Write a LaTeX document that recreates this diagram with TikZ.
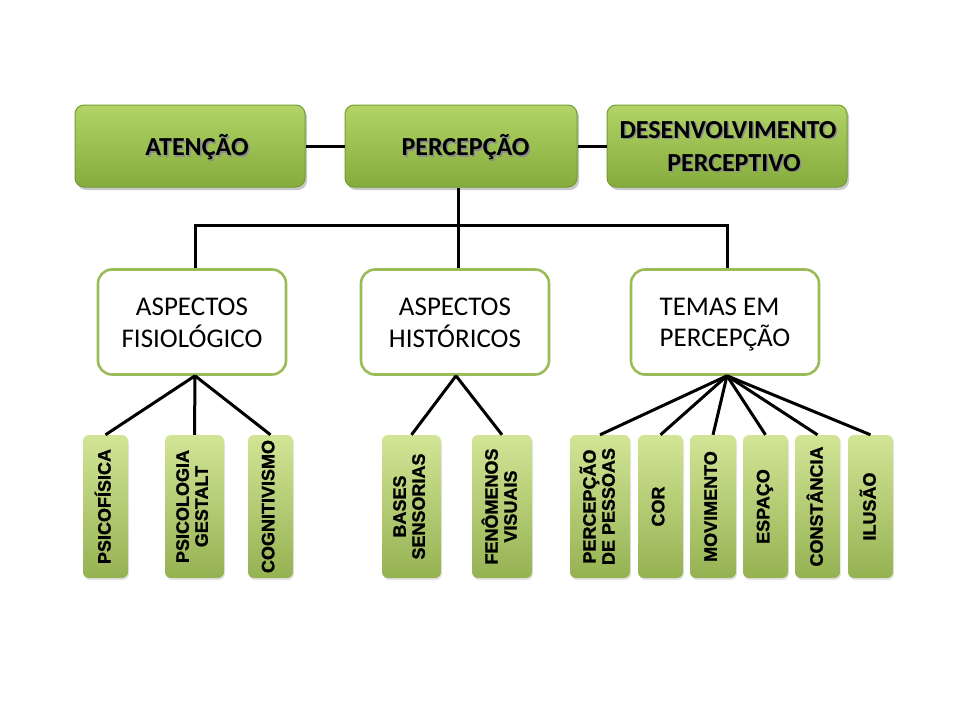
\documentclass[tikz,border=0pt]{standalone}
\usepackage{fontspec}
\setmainfont{Carlito}
\newfontfamily\lowfont{Liberation Sans}[BoldFeatures={FakeBold=1.2}]
\usetikzlibrary{shadows,calc}
\definecolor{topA}{HTML}{B3D366}
\definecolor{topB}{HTML}{84AC3C}
\definecolor{topBorder}{HTML}{749C34}
\definecolor{midBorder}{HTML}{9BBB59}
\definecolor{lowA}{HTML}{D2E596}
\definecolor{lowB}{HTML}{95B252}
\newcommand\shtxt[1]{\rlap{\kern1.5pt\raisebox{-1.5pt}{\textcolor{black!45}{#1}}}#1}
\newcommand\lowered[2]{\raisebox{-#1}[\height][\depth]{#2}}
\tikzset{
  topbox/.style={draw=topBorder, line width=1pt, rounded corners=9pt,
    top color=topA, bottom color=topB, minimum height=82pt,
    drop shadow={shadow xshift=2pt, shadow yshift=-3pt, opacity=0.35, fill=black!60},
    font=\bfseries\fontsize{26}{33}\selectfont, inner sep=0pt},
  midbox/.style={draw=midBorder, line width=2.6pt, rounded corners=14pt, fill=white,
    minimum width=188pt, minimum height=105pt,
    font=\fontsize{27}{31}\selectfont, inner sep=0pt},
  lowbox/.style={rounded corners=6pt, top color=lowA, bottom color=lowB,
    minimum height=143pt, inner sep=0pt,
    drop shadow={shadow xshift=1pt, shadow yshift=-2pt, opacity=0.2, fill=black!50},
    font=\lowfont\bfseries\fontsize{18}{19}\selectfont},
  conn/.style={line width=3pt, black}
}
\begin{document}
\begin{tikzpicture}[x=1pt,y=-1pt]
\useasboundingbox (0,0) rectangle (960,720);
\fill[white] (0,0) rectangle (960,720);
% top row
\node[topbox, minimum width=230pt] (aten) at (190,146) {\kern14pt\lowered{4pt}{\shtxt{\begin{tabular}{@{}c@{}}ATENÇÃO\end{tabular}}}};
\node[topbox, minimum width=232pt] (perc) at (461,146) {\kern9pt\lowered{4pt}{\shtxt{\begin{tabular}{@{}c@{}}PERCEPÇÃO\end{tabular}}}};
\node[topbox, minimum width=240pt] (desen) at (727,146) {\kern2pt\lowered{3pt}{\shtxt{\begin{tabular}{@{}c@{}}DESENVOLVIMENTO\\\kern12pt PERCEPTIVO\end{tabular}}}};
\draw[conn] (aten.east) -- (perc.west);
\draw[conn] (perc.east) -- (desen.west);
% middle row
\node[midbox] (fis) at (192,322) {\lowered{3pt}{\begin{tabular}{@{}c@{}}ASPECTOS\\FISIOLÓGICO\end{tabular}}};
\node[midbox] (hist) at (455,322) {\lowered{3pt}{\begin{tabular}{@{}c@{}}ASPECTOS\\HISTÓRICOS\end{tabular}}};
\node[midbox] (temas) at (725,322) {\lowered{3pt}{\begin{tabular}{@{}l@{}}TEMAS EM\\PERCEPÇÃO\end{tabular}}};
\coordinate (ps) at ($(perc.south)+(-3,0)$);
\coordinate (j) at ($(perc.south)+(-3,38)$);
\coordinate (fn) at ($(fis.north)+(3,0)$);
\coordinate (hn) at ($(hist.north)+(3,0)$);
\coordinate (tn) at ($(temas.north)+(2,0)$);
\draw[conn] (ps) -- (j);
\draw[conn] (fn) |- (tn |- j) -- (tn);
\draw[conn] (hn |- j) -- (hn);
% bottom row
\node[lowbox, minimum width=45pt] (psf) at (105.5,506.5) {\rotatebox{90}{\begin{tabular}{@{}c@{}}PSICOFÍSICA\end{tabular}}};
\node[lowbox, minimum width=59pt] (gest) at (194.5,506.5) {\rotatebox{90}{\begin{tabular}{@{}c@{}}PSICOLOGIA\\GESTALT\end{tabular}}};
\node[lowbox, minimum width=45pt] (cogn) at (270.5,506.5) {\rotatebox{90}{\begin{tabular}{@{}c@{}}COGNITIVISMO\end{tabular}}};
\node[lowbox, minimum width=59pt] (bases) at (411.5,506.5) {\rotatebox{90}{\begin{tabular}{@{}c@{}}BASES\\SENSORIAS\end{tabular}}};
\node[lowbox, minimum width=60pt] (fen) at (502,506.5) {\rotatebox{90}{\begin{tabular}{@{}c@{}}FENÔMENOS\\VISUAIS\end{tabular}}};
\node[lowbox, minimum width=60pt] (pess) at (600,506.5) {\rotatebox{90}{\begin{tabular}{@{}c@{}}PERCEPÇÃO\\DE PESSOAS\end{tabular}}};
\node[lowbox, minimum width=45pt] (cor) at (660.5,506.5) {\rotatebox{90}{\begin{tabular}{@{}c@{}}COR\end{tabular}}};
\node[lowbox, minimum width=46pt] (mov) at (713,506.5) {\rotatebox{90}{\begin{tabular}{@{}c@{}}MOVIMENTO\end{tabular}}};
\node[lowbox, minimum width=45pt] (esp) at (765.5,506.5) {\rotatebox{90}{\begin{tabular}{@{}c@{}}ESPAÇO\end{tabular}}};
\node[lowbox, minimum width=45pt] (const) at (817.5,506.5) {\rotatebox{90}{\begin{tabular}{@{}c@{}}CONSTÂNCIA\end{tabular}}};
\node[lowbox, minimum width=45pt] (ilu) at (870.5,506.5) {\rotatebox{90}{\begin{tabular}{@{}c@{}}ILUSÃO\end{tabular}}};
% connectors
\foreach \t in {psf,gest,cogn} \draw[conn] ($(fis.south)+(3,0)$) -- (\t.north);
\foreach \t in {bases,fen} \draw[conn] ($(hist.south)+(1,0)$) -- (\t.north);
\foreach \t in {pess,cor,mov,esp,const,ilu} \draw[conn] ($(temas.south)+(2,0)$) -- (\t.north);
\end{tikzpicture}
\end{document}
